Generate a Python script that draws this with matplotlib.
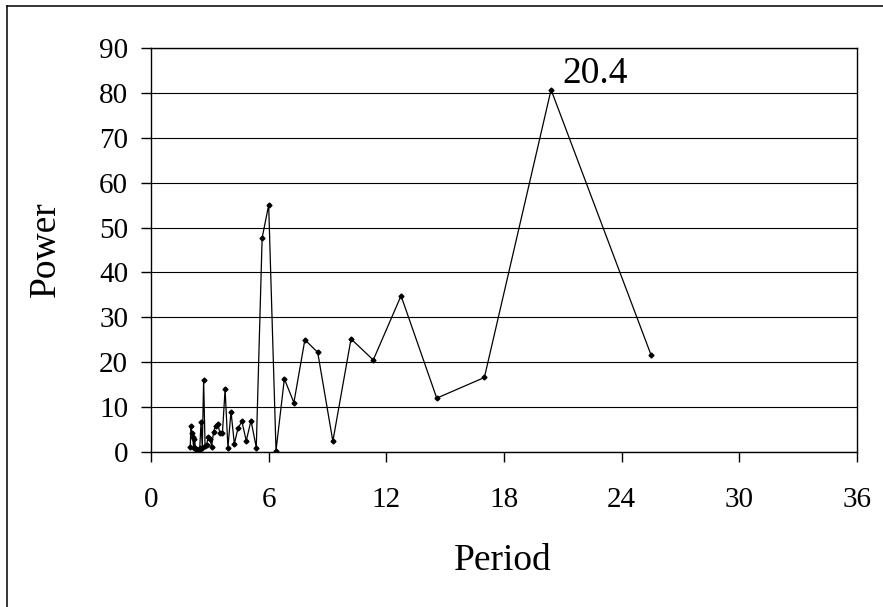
import matplotlib.pyplot as plt
from matplotlib.lines import Line2D

plt.rcParams['font.family'] = ['Liberation Serif', 'DejaVu Serif']

# periods (102/k for k = 51 .. 4) and power
period = [2.000, 2.040, 2.082, 2.125, 2.170, 2.217, 2.267, 2.318, 2.372, 2.429,
          2.488, 2.550, 2.615, 2.684, 2.757, 2.833, 2.914, 3.000, 3.091, 3.188,
          3.290, 3.400, 3.517, 3.643, 3.778, 3.923, 4.080, 4.250, 4.435, 4.636,
          4.857, 5.100, 5.368, 5.667, 6.000, 6.375, 6.800, 7.286, 7.846, 8.500,
          9.273, 10.200, 11.333, 12.750, 14.571, 17.000, 20.400, 25.500]
power = [1.2, 5.8, 4.2, 3.4, 1.0, 3.0, 0.9, 0.6, 0.3, 0.2,
         1.0, 6.6, 1.0, 16.0, 1.3, 1.5, 3.4, 3.0, 1.2, 4.4,
         5.9, 6.3, 4.2, 4.2, 14.0, 1.0, 9.0, 1.8, 5.3, 6.8,
         2.5, 7.0, 1.0, 47.7, 55.0, 0.3, 16.3, 11.0, 25.0, 22.2,
         2.4, 25.2, 20.5, 34.8, 12.0, 16.6, 80.7, 21.6]

xticks = [0, 6, 12, 18, 24, 30, 36]
yticks = [0, 10, 20, 30, 40, 50, 60, 70, 80, 90]
peak_label = '20.4'

W, H = 883, 607
fig = plt.figure(figsize=(W / 100, H / 100), dpi=100)
ax = fig.add_axes([151 / W, (H - 452) / H, (857 - 151) / W, (452 - 48) / H])

ax.plot(period, power, color='black', lw=0.9, marker='D', ms=2.5,
        mfc='black', mec='black', zorder=3)

ax.set_xlim(0, 36)
ax.set_ylim(0, 90)
ax.set_xticks(xticks)
ax.set_yticks(yticks)
ax.grid(axis='y', color='black', lw=0.8)
ax.set_axisbelow(True)
for s in ax.spines.values():
    s.set_linewidth(1.0)
ax.tick_params(direction='out', length=7.5, width=1.0, labelsize=21)
ax.tick_params(axis='y', pad=9)
ax.tick_params(axis='x', pad=18)

i = power.index(max(power))
ax.annotate(peak_label, xy=(period[i], power[i]), xytext=(8, 5),
            textcoords='offset points', ha='left', va='baseline', fontsize=27)

fig.text(503 / W, 1 - 570 / H, 'Period', ha='center', va='baseline', fontsize=27)
fig.text(46 / W, 1 - 249 / H, 'Power', ha='center', va='center',
         rotation=90, fontsize=27)

# outer chart frame (only top and left visible)
fig.add_artist(Line2D([7 / W, 7 / W], [0, 1 - 5.5 / H], color='black', lw=1.1,
                      transform=fig.transFigure))
fig.add_artist(Line2D([7 / W, 1], [1 - 5.5 / H, 1 - 5.5 / H], color='black', lw=1.1,
                      transform=fig.transFigure))

fig.savefig('out.png', dpi=100)
